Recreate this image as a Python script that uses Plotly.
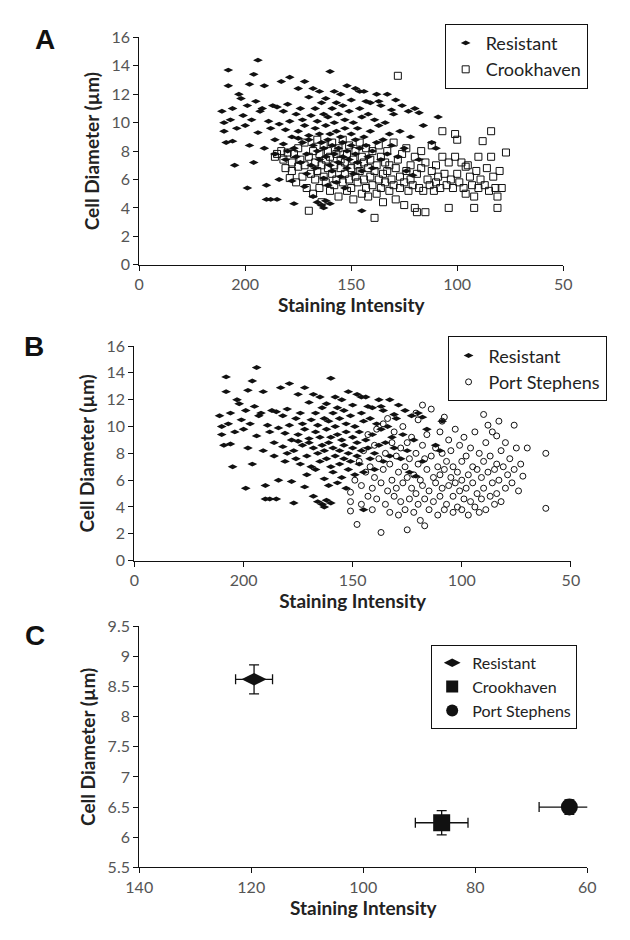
import plotly.graph_objects as go

# Individual cells: (staining intensity, cell diameter in µm)
resistant_points = [
    (211, 10.8), (210, 9.4), (209, 8.6), (208, 13.7), (208, 12.6), (207, 10.2), (206, 8.7), (206, 11.0),
    (205, 7.0), (204, 9.6), (210, 10.0), (203, 12.0), (202, 11.7), (201, 10.5), (200, 9.8), (199, 11.2),
    (199, 5.4), (198, 12.7), (198, 8.4), (197, 10.2), (196, 13.4), (196, 7.2), (195, 11.5), (194, 14.4),
    (194, 9.3), (193, 10.8), (192, 11.0), (191, 12.6), (191, 8.2), (190, 5.6), (190, 4.6), (189, 10.1),
    (188, 9.6), (188, 4.6), (187, 11.2), (186, 8.8), (186, 7.8), (185, 11.1), (185, 4.6), (184, 9.9),
    (184, 6.0), (183, 12.9), (182, 10.8), (182, 8.5), (181, 9.5), (181, 7.4), (180, 11.3), (180, 8.0),
    (179, 13.2), (179, 10.1), (178, 9.0), (178, 5.9), (177, 8.2), (177, 4.3), (176, 10.6), (176, 7.6),
    (175, 12.4), (175, 9.4), (175, 8.9), (174, 11.0), (174, 7.2), (173, 10.2), (173, 8.6), (172, 12.9),
    (172, 9.8), (172, 5.5), (171, 7.8), (171, 6.4), (170, 11.8), (170, 9.1), (170, 8.8), (169, 10.5),
    (169, 7.0), (168, 12.4), (168, 8.4), (168, 4.8), (167, 11.0), (167, 9.6), (167, 6.8), (166, 10.1),
    (166, 8.0), (166, 4.4), (165, 12.2), (165, 9.2), (165, 7.4), (164, 11.4), (164, 8.6), (164, 4.2),
    (163, 10.6), (163, 8.2), (163, 6.1), (163, 4.0), (162, 11.7), (162, 9.8), (162, 7.6), (162, 4.5),
    (161, 10.4), (161, 8.8), (161, 5.6), (160, 13.6), (160, 9.2), (160, 7.0), (160, 4.3), (159, 11.0),
    (159, 8.4), (159, 6.6), (158, 12.2), (158, 10.0), (158, 7.8), (157, 11.4), (157, 9.4), (157, 5.8),
    (156, 10.6), (156, 8.2), (156, 7.2), (155, 12.0), (155, 9.0), (155, 6.2), (154, 11.2), (154, 8.6),
    (154, 7.6), (153, 10.2), (153, 9.6), (153, 5.4), (152, 12.6), (152, 8.0), (152, 6.8), (151, 10.8),
    (151, 7.4), (150, 11.6), (150, 9.2), (150, 8.4), (149, 10.0), (149, 6.4), (148, 12.4), (148, 8.8),
    (148, 7.8), (147, 9.6), (147, 7.2), (146, 11.0), (146, 8.2), (146, 12.2), (145, 10.4), (145, 6.6),
    (145, 3.8), (144, 12.2), (144, 9.0), (143, 8.4), (143, 11.5), (142, 10.6), (142, 7.6), (141, 11.4),
    (141, 9.4), (140, 8.0), (140, 6.8), (139, 10.2), (138, 12.0), (138, 8.6), (137, 9.8), (137, 11.5),
    (136, 7.4), (136, 11.2), (135, 8.8), (134, 10.0), (133, 12.0), (133, 7.8), (132, 9.2), (131, 10.9),
    (131, 8.4), (130, 10.6), (129, 11.6), (128, 7.6), (127, 9.4), (126, 11.2), (125, 8.2), (124, 6.6),
    (123, 10.8), (122, 9.0), (121, 6.3), (120, 11.0), (118, 10.7), (118, 7.4), (116, 9.8), (112, 8.6),
    (109, 10.4), (110, 8.2),
]

crookhaven_points = [
    (186, 7.6), (185, 7.8), (183, 8.0), (182, 7.4), (181, 6.8), (180, 7.9), (179, 6.1), (178, 7.2),
    (178, 6.6), (177, 7.8), (176, 5.8), (175, 8.2), (175, 6.9), (174, 7.4), (173, 6.2), (172, 8.6),
    (172, 7.0), (171, 5.4), (170, 3.8), (170, 7.6), (169, 6.4), (168, 8.0), (168, 5.0), (167, 7.2),
    (167, 6.0), (166, 8.8), (166, 6.6), (165, 7.8), (165, 5.4), (164, 7.0), (164, 4.4), (163, 8.4),
    (163, 6.2), (162, 7.4), (162, 5.8), (161, 8.0), (161, 6.8), (160, 5.2), (160, 7.6), (159, 8.6),
    (159, 6.4), (158, 7.0), (158, 5.6), (157, 7.8), (157, 6.0), (156, 8.2), (156, 4.8), (155, 6.8),
    (155, 7.4), (154, 5.8), (154, 8.8), (153, 6.4), (153, 7.2), (152, 5.2), (152, 7.8), (151, 6.0),
    (151, 8.4), (150, 6.8), (150, 5.4), (149, 7.4), (149, 4.6), (148, 6.2), (148, 8.0), (147, 7.0),
    (147, 5.8), (146, 6.6), (146, 8.6), (145, 5.0), (145, 7.6), (144, 6.0), (144, 7.2), (143, 5.4),
    (143, 8.2), (142, 6.8), (142, 4.8), (141, 7.4), (141, 6.2), (140, 5.6), (140, 8.0), (139, 6.6),
    (139, 3.3), (138, 7.0), (138, 5.0), (137, 8.4), (137, 6.0), (136, 5.4), (136, 7.6), (135, 6.4),
    (135, 4.4), (134, 7.2), (134, 5.8), (133, 8.0), (133, 6.6), (132, 5.2), (132, 7.0), (131, 6.0),
    (130, 8.6), (130, 5.6), (129, 6.8), (129, 4.6), (128, 13.3), (128, 7.4), (127, 5.4), (127, 6.2),
    (126, 7.8), (125, 5.8), (125, 4.2), (124, 6.6), (124, 8.2), (123, 5.2), (122, 7.0), (122, 6.0),
    (121, 5.6), (120, 7.6), (120, 4.0), (119, 6.4), (119, 3.7), (118, 5.4), (117, 8.0), (117, 6.8),
    (116, 5.2), (115, 7.2), (115, 3.7), (114, 6.0), (113, 5.6), (112, 8.4), (112, 6.6), (111, 5.2),
    (110, 7.0), (110, 5.8), (109, 6.2), (108, 5.4), (107, 9.4), (107, 7.6), (106, 6.4), (105, 5.6),
    (104, 4.0), (104, 7.2), (103, 6.0), (102, 5.4), (101, 9.2), (101, 7.6), (100, 8.8), (100, 6.4),
    (99, 5.8), (98, 7.2), (97, 5.4), (96, 6.9), (96, 5.0), (95, 7.0), (94, 6.2), (93, 5.6),
    (92, 4.8), (92, 4.0), (91, 6.6), (90, 7.6), (90, 5.4), (89, 6.0), (88, 8.7), (87, 5.6),
    (86, 6.8), (85, 5.2), (84, 9.4), (84, 7.6), (83, 6.2), (82, 5.4), (81, 4.8), (81, 4.0),
    (80, 6.6), (79, 5.4), (77, 7.9),
]

port_stephens_points = [
    (151, 5.1), (151, 4.4), (151, 3.7), (149, 6.0), (148, 2.7), (147, 7.4), (146, 5.6), (146, 4.2),
    (145, 8.2), (144, 6.6), (143, 9.4), (143, 4.8), (142, 7.0), (141, 5.4), (141, 3.8), (140, 8.6),
    (140, 6.2), (139, 9.8), (139, 4.6), (138, 7.6), (137, 5.8), (137, 2.1), (136, 10.2), (136, 6.8),
    (135, 4.2), (135, 8.0), (134, 10.6), (134, 5.2), (133, 7.2), (133, 3.6), (132, 8.8), (132, 6.0),
    (131, 4.8), (131, 9.6), (130, 7.8), (130, 5.4), (129, 3.4), (129, 6.6), (128, 8.4), (128, 4.4),
    (127, 10.0), (127, 5.8), (126, 7.0), (126, 3.8), (125, 2.3), (125, 6.2), (125, 8.8), (124, 4.6),
    (124, 7.6), (123, 5.4), (123, 9.2), (122, 3.6), (122, 6.4), (121, 11.0), (121, 8.0), (121, 5.0),
    (120, 10.5), (120, 7.2), (120, 4.2), (119, 6.0), (119, 3.0), (118, 11.6), (118, 8.6), (118, 5.6),
    (117, 2.6), (117, 7.6), (117, 4.6), (116, 6.8), (116, 9.4), (115, 3.8), (115, 5.2), (114, 11.3),
    (114, 7.8), (113, 6.2), (113, 4.4), (112, 8.4), (112, 5.8), (111, 3.4), (111, 7.0), (110, 9.6),
    (110, 6.4), (110, 4.8), (109, 10.4), (109, 8.0), (109, 5.4), (108, 10.7), (108, 3.8), (108, 6.8),
    (107, 7.4), (107, 4.2), (106, 9.0), (106, 5.6), (105, 6.2), (105, 8.2), (104, 3.6), (104, 7.0),
    (104, 4.8), (103, 9.8), (103, 5.8), (102, 6.6), (102, 4.0), (101, 8.6), (101, 5.2), (100, 7.4),
    (100, 3.8), (100, 6.0), (99, 9.2), (99, 4.6), (98, 7.8), (98, 5.4), (97, 6.4), (97, 3.4),
    (96, 8.4), (96, 4.4), (95, 7.0), (95, 5.8), (94, 9.6), (94, 4.0), (93, 6.8), (93, 5.0),
    (92, 8.0), (92, 3.6), (91, 6.2), (91, 4.6), (90, 10.9), (90, 7.4), (90, 5.4), (89, 8.8),
    (89, 3.8), (88, 6.6), (88, 10.1), (87, 4.8), (87, 7.8), (86, 5.8), (86, 9.6), (85, 6.8),
    (85, 4.2), (84, 9.3), (84, 7.2), (84, 5.0), (83, 10.4), (83, 6.0), (82, 8.2), (82, 4.4),
    (81, 7.0), (80, 5.4), (80, 8.8), (79, 6.4), (78, 7.6), (77, 5.8), (76, 10.1), (76, 6.8),
    (75, 8.4), (74, 5.2), (73, 7.2), (72, 6.3), (70, 8.4), (61.5, 8.0), (61.5, 3.9),
]

# Group means with error bars
group_names = ["Resistant", "Crookhaven", "Port Stephens"]
group_symbols = ["diamond-wide", "square", "circle"]
mean_intensity = [119.5, 86.0, 63.2]
mean_diameter = [8.62, 6.24, 6.50]
err_intensity = [3.3, 4.7, 5.4]
err_diameter = [0.24, 0.20, 0.12]

scatter_tick_vals = [250, 200, 150, 100, 50]
scatter_tick_text = ["0", "200", "150", "100", "50"]


def split(points):
    return [p[0] for p in points], [p[1] for p in points]


FONT = "Lato"
TICK_FONT = dict(family=FONT, size=16, color="#555555")
TITLE_FONT = dict(family=FONT, size=19, color="#222222", weight="bold")
W, H = 630, 940


def px_x(p):
    return p / W


def px_y(p):
    return 1 - p / H


fig = go.Figure()

rx, ry = split(resistant_points)
cx, cy = split(crookhaven_points)
sx, sy = split(port_stephens_points)

small_diamond = dict(symbol="diamond-wide", size=7, color="#111111", line=dict(width=0))
small_square = dict(symbol="square-open", size=7, color="#111111", line=dict(width=1))
small_circle = dict(symbol="circle-open", size=6, color="#111111", line=dict(width=1))

# Panel A
fig.add_trace(go.Scatter(x=rx, y=ry, mode="markers", name="Resistant", marker=small_diamond,
                         xaxis="x", yaxis="y", legend="legend"))
fig.add_trace(go.Scatter(x=cx, y=cy, mode="markers", name="Crookhaven", marker=small_square,
                         xaxis="x", yaxis="y", legend="legend"))
# Panel B
fig.add_trace(go.Scatter(x=rx, y=ry, mode="markers", name="Resistant", marker=small_diamond,
                         xaxis="x2", yaxis="y2", legend="legend2"))
fig.add_trace(go.Scatter(x=sx, y=sy, mode="markers", name="Port Stephens", marker=small_circle,
                         xaxis="x2", yaxis="y2", legend="legend2"))
# Panel C
for i, name in enumerate(group_names):
    fig.add_trace(go.Scatter(
        x=[mean_intensity[i]], y=[mean_diameter[i]], mode="markers", name=name,
        marker=dict(symbol=group_symbols[i], size=17 if i else 18, color="#111111"),
        error_x=dict(type="data", array=[err_intensity[i]], color="#111111", thickness=1.3, width=5),
        error_y=dict(type="data", array=[err_diameter[i]], color="#111111", thickness=1.3, width=5),
        xaxis="x3", yaxis="y3", legend="legend3"))

axis_common = dict(showgrid=False, zeroline=False, showline=True, linecolor="#111111", linewidth=1.2,
                   ticks="outside", ticklen=5, tickcolor="#111111", tickfont=TICK_FONT)

fig.update_layout(
    width=W, height=H, autosize=False,
    margin=dict(l=0, r=0, t=0, b=0),
    paper_bgcolor="white", plot_bgcolor="white",
    font=dict(family=FONT, color="#222222"),
    xaxis=dict(axis_common, domain=[px_x(130), px_x(570)], anchor="y", range=[250, 50],
               tickvals=scatter_tick_vals, ticktext=scatter_tick_text,
               title=dict(text="Staining Intensity", font=TITLE_FONT, standoff=4)),
    yaxis=dict(axis_common, domain=[px_y(260), px_y(28)], anchor="x", range=[0, 16], dtick=2,
               title=dict(text="Cell Diameter (µm)", font=TITLE_FONT, standoff=6)),
    xaxis2=dict(axis_common, domain=[px_x(125), px_x(578)], anchor="y2", range=[250, 50],
                tickvals=scatter_tick_vals, ticktext=scatter_tick_text,
                title=dict(text="Staining Intensity", font=TITLE_FONT, standoff=4)),
    yaxis2=dict(axis_common, domain=[px_y(562), px_y(343)], anchor="x2", range=[0, 16], dtick=2,
                title=dict(text="Cell Diameter (µm)", font=TITLE_FONT, standoff=6)),
    xaxis3=dict(axis_common, domain=[px_x(130), px_x(595)], anchor="y3", range=[140, 60], dtick=20,
                title=dict(text="Staining Intensity", font=TITLE_FONT, standoff=4)),
    yaxis3=dict(axis_common, domain=[px_y(875), px_y(629)], anchor="x3", range=[5.5, 9.5], dtick=0.5,
                title=dict(text="Cell Diameter (µm)", font=TITLE_FONT, standoff=6)),
    legend=dict(x=px_x(447), y=px_y(14), xanchor="left", yanchor="top", bordercolor="#111111",
                borderwidth=1, bgcolor="white", font=dict(family=FONT, size=18, color="#222222")),
    legend2=dict(x=px_x(450), y=px_y(333), xanchor="left", yanchor="top", bordercolor="#111111",
                 borderwidth=1, bgcolor="white", font=dict(family=FONT, size=18, color="#222222")),
    legend3=dict(x=px_x(433), y=px_y(648), xanchor="left", yanchor="top", bordercolor="#111111",
                 borderwidth=1, bgcolor="white", itemsizing="constant", itemwidth=30,
                 font=dict(family=FONT, size=16, color="#222222")),
    showlegend=True,
)

panel_labels = [("A", 32, 30), ("B", 21, 343), ("C", 22, 638)]
for letter, x0, y0 in panel_labels:
    fig.add_annotation(text=letter, x=px_x(x0), y=px_y(y0), xref="paper", yref="paper",
                       showarrow=False, xanchor="center", yanchor="middle",
                       font=dict(family="Liberation Sans", size=28, color="#111111", weight="bold"))

fig.write_html("out.html")
